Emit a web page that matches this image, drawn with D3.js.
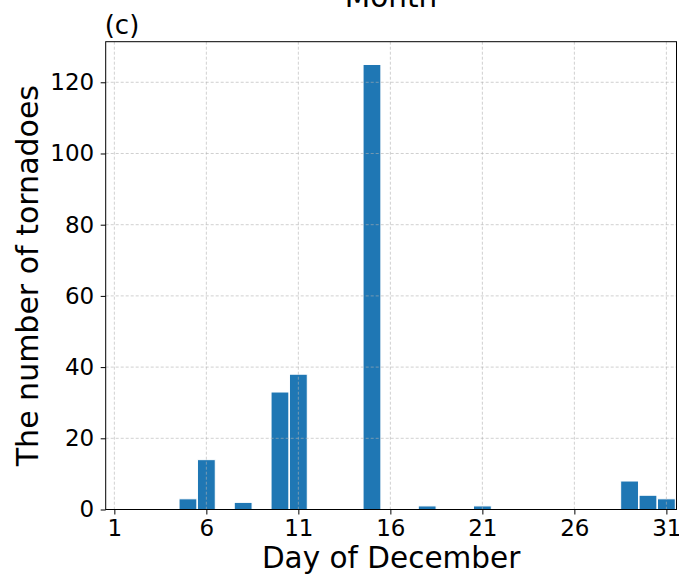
<!DOCTYPE html>
<html>
<head>
<meta charset="utf-8">
<script src="https://cdn.jsdelivr.net/npm/d3@7"></script>
<style>
  html, body { margin: 0; padding: 0; background: #fff; }
  svg { display: block; font-family: "DejaVu Sans", sans-serif; }
</style>
</head>
<body>
<svg id="chart" width="679" height="574"></svg>
<script>
// Tornado counts per day of December
const days   = [5, 6, 8, 10, 11, 15, 18, 21, 29, 30, 31];
const counts = [3, 14, 2, 33, 38, 125, 1, 1, 8, 4, 3];
const xTicks = [1, 6, 11, 16, 21, 26, 31];
const yTicks = [0, 20, 40, 60, 80, 100, 120];

const svg = d3.select("#chart");
const plotL = 105.7, plotR = 676.5, plotT = 41.7, plotB = 509.5;

const x = d3.scaleLinear().domain([0.53, 31.55]).range([plotL, plotR]);
const y = d3.scaleLinear().domain([0, 131.4]).range([plotB, plotT]);
const binW = 30 / 31;

// bars
svg.append("g").selectAll("rect")
  .data(days.map((d, i) => ({ day: d, n: counts[i] })))
  .join("rect")
  .attr("x", d => x(d.day - binW / 2))
  .attr("width", d => x(d.day + binW / 2) - x(d.day - binW / 2))
  .attr("y", d => y(d.n))
  .attr("height", d => y(0) - y(d.n))
  .attr("fill", "#1f77b4")
  .attr("stroke", "#fff")
  .attr("stroke-width", 1);

// dashed grid drawn over the bars
const grid = svg.append("g")
  .attr("stroke", "#b0b0b0")
  .attr("stroke-opacity", 0.75)
  .attr("stroke-width", 0.8)
  .attr("stroke-dasharray", "3,2");
grid.selectAll(".gx").data(xTicks).join("line")
  .attr("x1", d => x(d)).attr("x2", d => x(d))
  .attr("y1", plotT).attr("y2", plotB);
grid.selectAll(".gy").data(yTicks).join("line")
  .attr("x1", plotL).attr("x2", plotR)
  .attr("y1", d => y(d)).attr("y2", d => y(d));

// axes
const xAxis = d3.axisBottom(x).tickValues(xTicks).tickSize(5).tickPadding(5.5);
const yAxis = d3.axisLeft(y).tickValues(yTicks).tickSize(5).tickPadding(6.5);

const gx = svg.append("g").attr("transform", `translate(0,${plotB})`).call(xAxis);
const gy = svg.append("g").attr("transform", `translate(${plotL},0)`).call(yAxis);
[gx, gy].forEach(g => {
  g.select(".domain").remove();
  g.selectAll("line").attr("stroke", "#000").attr("stroke-width", 1);
  g.selectAll("text").attr("fill", "#000").style("font-size", "23px")
    .style("font-family", "DejaVu Sans, sans-serif");
});

// frame
svg.append("rect")
  .attr("x", plotL).attr("y", plotT)
  .attr("width", plotR - plotL).attr("height", plotB - plotT)
  .attr("fill", "none").attr("stroke", "#000").attr("stroke-width", 1);

// labels
svg.append("text")
  .attr("x", (plotL + plotR) / 2).attr("y", 568)
  .attr("text-anchor", "middle").style("font-size", "29.5px")
  .text("Day of December");

svg.append("text")
  .attr("transform", `translate(38,${(plotT + plotB) / 2}) rotate(-90)`)
  .attr("text-anchor", "middle").style("font-size", "30px")
  .text("The number of tornadoes");

svg.append("text")
  .attr("x", plotL - 1).attr("y", 34)
  .style("font-size", "26px")
  .text("(c)");

svg.append("text")
  .attr("x", (plotL + plotR) / 2).attr("y", 7)
  .attr("text-anchor", "middle").style("font-size", "29.5px")
  .text("Month");
</script>
</body>
</html>
